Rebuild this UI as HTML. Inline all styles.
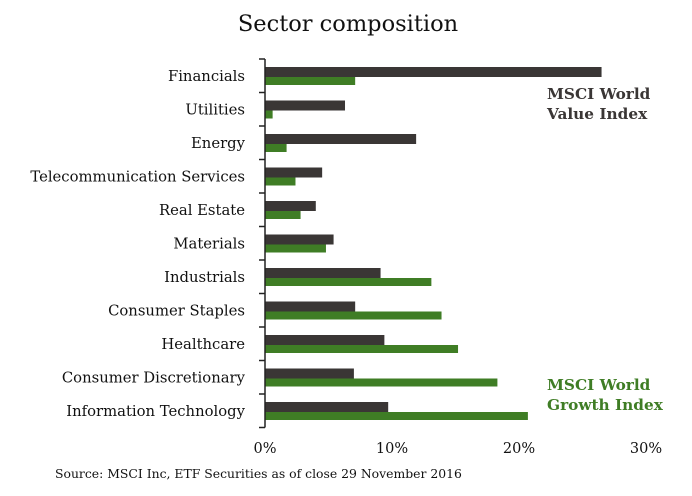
<!DOCTYPE html>
<html><head><meta charset="utf-8"><style>
body{margin:0;background:#fff;}
svg text{font-family:"DejaVu Serif","Liberation Serif",serif;fill:#111;}
</style></head><body>
<svg width="692" height="491">
<text x="348" y="31" font-size="22.5" text-anchor="middle">Sector composition</text>
<g id="plot"></g>
<text x="547" y="99" font-size="15.3" font-weight="bold" style="fill:#3a3635">MSCI World</text>
<text x="547" y="119" font-size="15.3" font-weight="bold" style="fill:#3a3635">Value Index</text>
<text x="547" y="390" font-size="15.3" font-weight="bold" style="fill:#3f7d25">MSCI World</text>
<text x="547" y="410" font-size="15.3" font-weight="bold" style="fill:#3f7d25">Growth Index</text>
<text x="55" y="478" font-size="12.4">Source: MSCI Inc, ETF Securities as of close 29 November 2016</text>
</svg>
<script>
const categories=["Financials","Utilities","Energy","Telecommunication Services","Real Estate","Materials","Industrials","Consumer Staples","Healthcare","Consumer Discretionary","Information Technology"];
const valueSeries=[26.5,6.3,11.9,4.5,4.0,5.4,9.1,7.1,9.4,7.0,9.7];
const growthSeries=[7.1,0.6,1.7,2.4,2.8,4.8,13.1,13.9,15.2,18.3,20.7];
const xTicks=[0,10,20,30];
const xTickLabels=["0%","10%","20%","30%"];
const NS="http://www.w3.org/2000/svg";
const g=document.getElementById('plot');
const x0=265,pxPer=12.7,top0=59,rowH=33.5;
const xs=v=>x0+v*pxPer;
const ys=i=>top0+i*rowH;
function mk(t,a){const e=document.createElementNS(NS,t);for(const k in a)e.setAttribute(k,a[k]);g.appendChild(e);return e;}
categories.forEach((c,i)=>{
  const b=ys(i);
  let r=mk('rect',{x:x0,y:b+8,width:xs(valueSeries[i])-x0,height:10,fill:'#3a3635'});
  
  
  r=mk('rect',{x:x0,y:b+18,width:xs(growthSeries[i])-x0,height:8,fill:'#3f7d25'});
  
  
  const t=mk('text',{x:245,y:b+22,'font-size':14.8,'text-anchor':'end'});
  t.textContent=c;
  
  
});
for(let i=0;i<=categories.length;i++){
  const l=mk('line',{x1:259,x2:265,y1:ys(i),y2:ys(i),stroke:'#222','stroke-width':1.5});
  
  
}
const ax=mk('line',{x1:265,x2:265,y1:ys(0),y2:ys(categories.length),stroke:'#222','stroke-width':1.5});


xTicks.forEach((v,i)=>{
  const t=mk('text',{x:xs(v),y:453,'font-size':14.5,'text-anchor':'middle'});
  t.textContent=xTickLabels[i];
  
  
});
</script>
</body></html>
